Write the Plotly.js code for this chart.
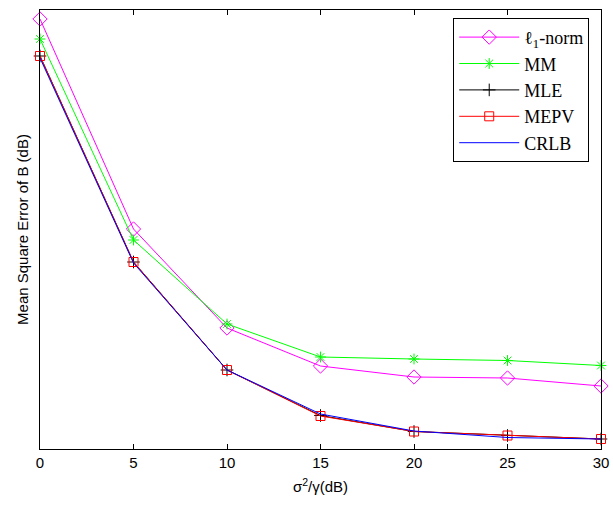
<!DOCTYPE html>
<html><head><meta charset="utf-8">
<script src="https://cdn.plot.ly/plotly-3.0.1.min.js"></script>
<style>html,body{margin:0;padding:0;background:#fff}</style>
</head><body>
<div id="chart" style="width:613px;height:508px"></div>
<script>
const snr = [0, 5, 10, 15, 20, 25, 30];
const l1norm = [430, 220, 121, 83, 72, 71, 63];
const mm = [410, 209, 125, 92, 90, 88.5, 83.5];
const mle = [393, 187, 79, 33.5, 17.5, 13.5, 10];
const mepv = [393, 187, 79, 33, 17.5, 13.5, 10];
const crlb = [391, 186, 79, 35, 18, 11.5, 10];

const traces = [
  {x: snr, y: l1norm, name: 'ℓ<sub>1</sub>-norm', mode: 'lines+markers', cliponaxis: false,
   line: {color: '#ff00ff', width: 1}, marker: {symbol: 'diamond-open', size: 11, color: '#ff00ff', line: {width: 1}}},
  {x: snr, y: mm, name: 'MM', mode: 'lines+markers', cliponaxis: false,
   line: {color: '#00ff00', width: 1}, marker: {symbol: 'asterisk-open', size: 9, color: '#00ff00', line: {width: 1, color: '#00ff00'}}},
  {x: snr, y: mle, name: 'MLE', mode: 'lines+markers', cliponaxis: false,
   line: {color: '#000000', width: 1}, marker: {symbol: 'cross-thin-open', size: 9, color: '#000000', line: {width: 1, color: '#000000'}}},
  {x: snr, y: mepv, name: 'MEPV', mode: 'lines+markers', cliponaxis: false,
   line: {color: '#ff0000', width: 1}, marker: {symbol: 'square-open', size: 9, color: '#ff0000', line: {width: 1}}},
  {x: snr, y: crlb, name: 'CRLB', mode: 'lines', cliponaxis: false,
   line: {color: '#0000ff', width: 1}}
];

const layout = {
  width: 613, height: 508,
  margin: {l: 40, r: 12, t: 10, b: 59},
  paper_bgcolor: '#fff', plot_bgcolor: '#fff',
  showlegend: true,
  legend: {x: 0.979, y: 0.982, xanchor: 'right', yanchor: 'top',
    bordercolor: '#000', borderwidth: 1, bgcolor: '#fff', itemwidth: 60,
    font: {family: 'Liberation Serif, Times New Roman, serif', size: 18, color: '#000'}},
  xaxis: {range: [0, 30], tickvals: snr, ticktext: snr.map(String), ticks: 'inside', ticklen: 5,
    tickcolor: '#000', showline: true, linecolor: '#000', linewidth: 1, mirror: 'ticks',
    showgrid: false, zeroline: false,
    tickfont: {family: 'Liberation Sans, Arial, sans-serif', size: 15, color: '#000'},
    title: {text: 'σ<sup>2</sup>/γ(dB)', standoff: 11, font: {family: 'Liberation Sans, Arial, sans-serif', size: 15, color: '#000'}}},
  yaxis: {range: [0, 439], showticklabels: false, ticks: '', showline: true, linecolor: '#000',
    linewidth: 1, mirror: true, showgrid: false, zeroline: false,
    title: {text: 'Mean Square Error of B (dB)', standoff: 6, font: {family: 'Liberation Sans, Arial, sans-serif', size: 15, color: '#000'}}}
};

Plotly.newPlot('chart', traces, layout, {displayModeBar: false, staticPlot: true});
</script>
</body></html>
